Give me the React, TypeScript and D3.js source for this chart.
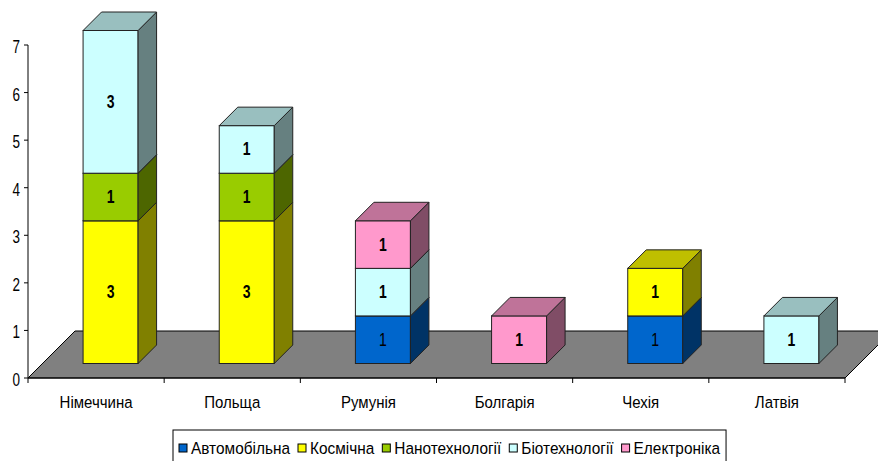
import React, { useEffect, useRef } from "react";
import * as d3 from "d3";

const categories = ["Німеччина", "Польща", "Румунія", "Болгарія", "Чехія", "Латвія"];
const seriesNames = ["Автомобільна", "Космічна", "Нанотехнології", "Біотехнології", "Електроніка"];
const auto = [0, 0, 1, 0, 1, 0];
const space = [3, 3, 0, 0, 1, 0];
const nano = [1, 1, 0, 0, 0, 0];
const bio = [3, 1, 1, 0, 0, 1];
const electro = [0, 0, 1, 1, 0, 0];
const yTicks = [0, 1, 2, 3, 4, 5, 6, 7];
const seriesColors = ["#0066CC", "#FFFF00", "#99CC00", "#CCFFFF", "#FF99CC"];

const W = 878, H = 461;

export default function App() {
  const ref = useRef<SVGSVGElement>(null);
  useEffect(() => {
    const svg = d3.select(ref.current);
    svg.selectAll("*").remove();
    const font = "'Liberation Sans', Arial, sans-serif";
    const values = [auto, space, nano, bio, electro];
    const x0 = 28, x1 = 845;
    const floorDepth = 47;
    const dz = 14.5;
    const barDepth = 18.5;
    const x = d3.scaleBand<string>().domain(categories).range([x0, x1]).paddingInner(0.596).paddingOuter(0.298);
    const xc = d3.scaleBand<string>().domain(categories).range([x0, x1]);
    const y = d3.scaleLinear().domain([0, 7]).range([378, 45]);
    const shade = (c: string, k: number) => {
      const r = d3.rgb(c);
      return d3.rgb(r.r * k, r.g * k, r.b * k).formatHex();
    };

    // floor
    const y0 = y(0);
    svg.append("path")
      .attr("d", `M${x0},${y0}L${x0 + floorDepth},${y0 - floorDepth}L${x1 + floorDepth},${y0 - floorDepth}L${x1},${y0}Z`)
      .attr("fill", "#808080").attr("stroke", "#000").attr("stroke-width", 1);

    // y axis
    svg.append("line").attr("x1", x0).attr("x2", x0).attr("y1", y(7)).attr("y2", y0)
      .attr("stroke", "#000").attr("stroke-width", 1);
    yTicks.forEach(t => {
      svg.append("line").attr("x1", x0 - 4).attr("x2", x0).attr("y1", y(t)).attr("y2", y(t)).attr("stroke", "#000");
      svg.append("text").attr("transform", `translate(20,${y(t) + 8}) scale(1,1.3)`)
        .attr("text-anchor", "end").attr("font-family", font).attr("font-size", 13.5).text(String(t));
    });
    // x axis
    svg.append("line").attr("x1", x0).attr("x2", x1).attr("y1", y0).attr("y2", y0).attr("stroke", "#000");
    categories.forEach((c, i) => {
      const bx = xc(c)!;
      svg.append("line").attr("x1", bx).attr("x2", bx).attr("y1", y0).attr("y2", y0 + 5).attr("stroke", "#000");
      if (i === categories.length - 1) {
        svg.append("line").attr("x1", x1).attr("x2", x1).attr("y1", y0).attr("y2", y0 + 5).attr("stroke", "#000");
      }
      svg.append("text").attr("transform", `translate(${bx + xc.bandwidth() / 2},${y0 + 30}) scale(1,1.15)`)
        .attr("text-anchor", "middle").attr("font-family", font).attr("font-size", 15).text(c);
    });

    // bars
    categories.forEach((c, i) => {
      const bx = x(c)! + dz;
      const bw = x.bandwidth();
      let cum = 0;
      values.forEach((vals, s) => {
        const v = vals[i];
        if (!v) return;
        const ya = y(cum) - dz, yb = y(cum + v) - dz;
        cum += v;
        const col = seriesColors[s];
        const g = svg.append("g");
        g.append("rect").attr("x", bx).attr("y", yb).attr("width", bw).attr("height", ya - yb)
          .attr("fill", col).attr("stroke", "#222").attr("stroke-width", 1);
        g.append("path")
          .attr("d", `M${bx + bw},${ya}L${bx + bw + barDepth},${ya - barDepth}L${bx + bw + barDepth},${yb - barDepth}L${bx + bw},${yb}Z`)
          .attr("fill", shade(col, 0.5)).attr("stroke", "#222").attr("stroke-width", 1);
        g.append("path")
          .attr("d", `M${bx},${yb}L${bx + barDepth},${yb - barDepth}L${bx + bw + barDepth},${yb - barDepth}L${bx + bw},${yb}Z`)
          .attr("fill", shade(col, 0.75)).attr("stroke", "#222").attr("stroke-width", 1);
        g.append("text").attr("transform", `translate(${bx + bw / 2},${(ya + yb) / 2 + 6}) scale(1,1.25)`)
          .attr("text-anchor", "middle").attr("font-family", font).attr("font-size", 14)
          .attr("font-weight", s === 0 ? "normal" : "bold").attr("fill", "#000").text(String(v));
      });
    });

    // legend
    const lg = svg.append("g");
    const box = lg.append("rect").attr("x", 173).attr("y", 430).attr("height", 40)
      .attr("fill", "#fff").attr("stroke", "#000").attr("stroke-width", 1);
    let lx = 179;
    seriesNames.forEach((n, s) => {
      lg.append("rect").attr("x", lx).attr("y", 444).attr("width", 8).attr("height", 8)
        .attr("fill", seriesColors[s]).attr("stroke", "#000").attr("stroke-width", 1);
      const t = lg.append("text").attr("transform", `translate(${lx + 12},454) scale(1,1.12)`)
        .attr("font-family", font).attr("font-size", 15.4).text(n);
      const w = (t.node() as SVGTextElement).getComputedTextLength();
      lx = lx + 12 + w + 8;
    });
    box.attr("width", lx - 173 - 2);
  }, []);
  return (
    <svg ref={ref} width={W} height={H} style={{ position: "absolute", left: 0, top: 0, display: "block", background: "#fff" }} />
  );
}
